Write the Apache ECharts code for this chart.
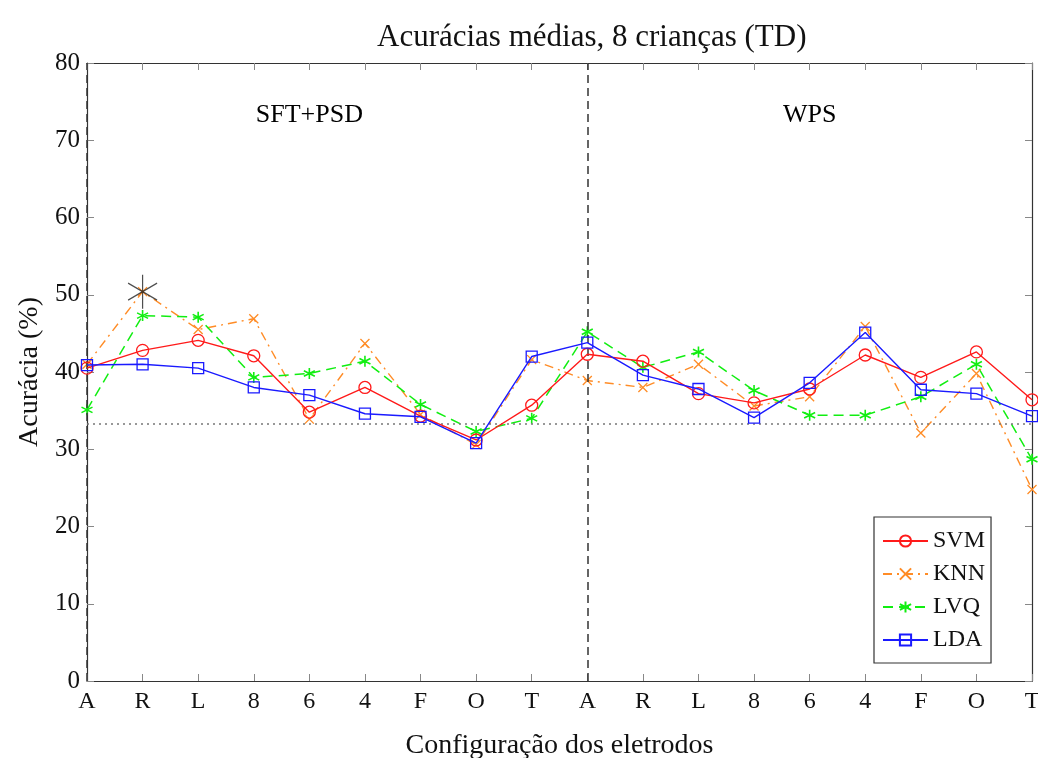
<!DOCTYPE html>
<html><head><meta charset="utf-8">
<script src="https://cdn.jsdelivr.net/npm/echarts@6/dist/echarts.min.js"></script>
<style>html,body{margin:0;padding:0;background:#fff}#c{width:1038px;height:758px}</style>
</head><body><div id="c"></div>
<script>
const categories = ['A','R','L','8','6','4','F','O','T','A','R','L','8','6','4','F','O','T'];
const svm = [40.5, 42.8, 44.1, 42.1, 34.8, 38.0, 34.3, 31.2, 35.7, 42.3, 41.4, 37.2, 36.0, 37.8, 42.2, 39.3, 42.6, 36.4];
const knn = [41.0, 50.4, 45.5, 46.9, 33.9, 43.7, 34.5, 30.6, 41.6, 38.9, 38.0, 41.0, 35.6, 36.8, 45.9, 32.1, 39.8, 24.8];
const lvq = [35.1, 47.3, 47.1, 39.3, 39.8, 41.4, 35.8, 32.3, 34.0, 45.2, 40.6, 42.6, 37.6, 34.4, 34.4, 36.8, 41.0, 28.7];
const lda = [40.9, 41.0, 40.5, 38.0, 37.0, 34.6, 34.2, 30.8, 42.0, 43.8, 39.6, 37.8, 34.1, 38.6, 45.1, 37.7, 37.2, 34.3];
const bestPoint = [[1, 50.4]];
const chanceLevel = 33.33;
const groupNames = ['SFT+PSD', 'WPS'];
const groupRanges = [[0, 8], [9, 17]];
const groupLabelY = 73.3;

const SERIF = 'Liberation Serif';
const pairs = arr => arr.map((v, i) => [i, v]);

const chart = echarts.init(document.getElementById('c'), null, {renderer: 'canvas'});

const axisCommon = {
  type: 'value', min: 0,
  axisLine: {show: true, onZero: false, lineStyle: {color: '#333', width: 1.2}},
  axisTick: {show: true, inside: true, length: 7, lineStyle: {color: '#888', width: 1}},
  splitLine: {show: false}
};

const option = {
  backgroundColor: '#fff',
  animation: false,
  title: {
    text: 'Acurácias médias, 8 crianças (TD)',
    left: 372, top: 17,
    textStyle: {fontFamily: SERIF, fontSize: 31, fontWeight: 'normal', color: '#111'}
  },
  grid: {left: 87, right: 6, top: 63, bottom: 77, outerBoundsMode: 'none', containLabel: false},
  legend: {
    data: ['SVM', 'KNN', 'LVQ', 'LDA'],
    orient: 'vertical',
    left: 874, top: 517,
    padding: [11, 6, 10, 8],
    itemWidth: 45, itemHeight: 14, itemGap: 7,
    backgroundColor: '#fff',
    borderColor: '#333', borderWidth: 1.2,
    textStyle: {fontFamily: SERIF, fontSize: 24, color: '#111', lineHeight: 26}
  },
  xAxis: [
    Object.assign({}, axisCommon, {
      max: categories.length - 1, interval: 1, position: 'bottom',
      axisLabel: {formatter: v => categories[v] || '', fontFamily: SERIF, fontSize: 24, color: '#111', margin: 9},
      name: 'Configuração dos eletrodos', nameLocation: 'middle', nameGap: 51,
      nameTextStyle: {fontFamily: SERIF, fontSize: 28, color: '#111'}
    }),
    Object.assign({}, axisCommon, {
      max: categories.length - 1, interval: 1, position: 'top',
      axisLabel: {show: false}
    })
  ],
  yAxis: [
    Object.assign({}, axisCommon, {
      max: 80, interval: 10, position: 'left',
      axisLabel: {fontFamily: SERIF, fontSize: 25, color: '#111', margin: 7},
      name: 'Acurácia (%)', nameLocation: 'middle', nameGap: 42,
      nameTextStyle: {fontFamily: SERIF, fontSize: 28, color: '#111'}
    }),
    Object.assign({}, axisCommon, {
      max: 80, interval: 10, position: 'right',
      axisLabel: {show: false}
    })
  ],
  series: [
    {
      name: 'SVM', type: 'line', data: pairs(svm), z: 5,
      symbol: 'circle', symbolSize: 12,
      itemStyle: {color: 'rgba(255,255,255,0)', borderColor: '#ff1a1a', borderWidth: 1.3},
      lineStyle: {color: '#ff1a1a', width: 1.4, type: 'solid'},
      markLine: {
        silent: true, symbol: ['none', 'none'], label: {show: false},
        data: [
          {yAxis: chanceLevel, lineStyle: {color: '#777', type: [2, 4], width: 1.5}},
          ...groupRanges.map(r => ({xAxis: r[0], lineStyle: {color: '#333', type: [8, 5], width: 1.5}}))
        ]
      }
    },
    {
      name: 'KNN', type: 'line', data: pairs(knn), z: 4,
      symbol: 'path://M0,0L10,10M10,0L0,10', symbolSize: 9,
      itemStyle: {color: 'rgba(255,255,255,0)', borderColor: '#ff8c26', borderWidth: 1.3},
      lineStyle: {color: '#ff8c26', width: 1.4, type: [9, 5, 2, 5]}
    },
    {
      name: 'LVQ', type: 'line', data: pairs(lvq), z: 4,
      symbol: 'path://M5,0L5,10M0.67,2.5L9.33,7.5M0.67,7.5L9.33,2.5', symbolSize: 11,
      itemStyle: {color: 'rgba(255,255,255,0)', borderColor: '#11ee11', borderWidth: 1.6},
      lineStyle: {color: '#11ee11', width: 1.5, type: [10, 6]}
    },
    {
      name: 'LDA', type: 'line', data: pairs(lda), z: 6,
      symbol: 'rect', symbolSize: 11,
      itemStyle: {color: 'rgba(255,255,255,0)', borderColor: '#1a1aff', borderWidth: 1.3},
      lineStyle: {color: '#1a1aff', width: 1.4, type: 'solid'}
    },
    {
      name: 'best', type: 'scatter', data: bestPoint, z: 7,
      symbol: 'path://M0,-1L0,1M-0.866,-0.5L0.866,0.5M-0.866,0.5L0.866,-0.5', symbolSize: [29, 34],
      itemStyle: {color: 'rgba(0,0,0,0)', borderColor: '#222', borderWidth: 1.3}
    },
    {
      name: 'groups', type: 'scatter', z: 3, silent: true,
      data: groupRanges.map((r, i) => ({value: [(r[0] + r[1]) / 2, groupLabelY], name: groupNames[i]})),
      symbolSize: 1, itemStyle: {color: 'rgba(0,0,0,0)'},
      label: {show: true, position: 'inside', formatter: p => p.name, fontFamily: SERIF, fontSize: 26, color: '#000', opacity: 1}
    }
  ]
};
chart.setOption(option);
</script>
</body></html>
